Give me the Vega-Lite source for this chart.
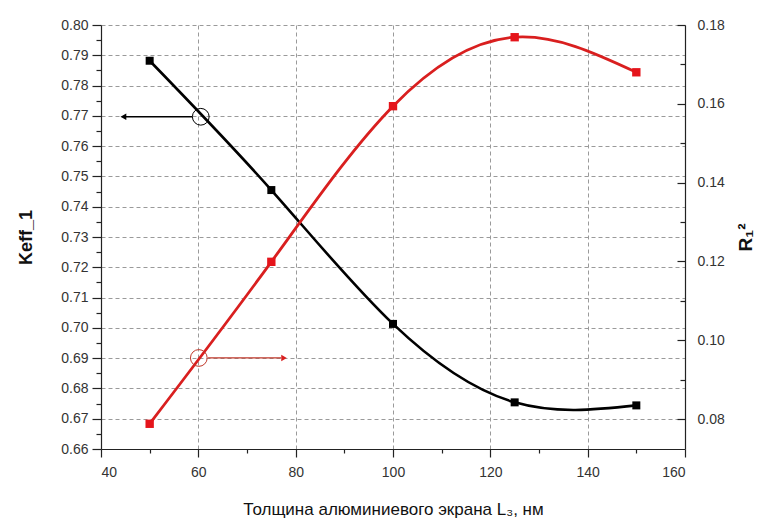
{
  "$schema": "https://vega.github.io/schema/vega-lite/v6.json",
  "width": 584,
  "height": 424,
  "autosize": {"type": "none"},
  "padding": {"left": 101, "top": 25, "right": 78, "bottom": 70},
  "background": "white",
  "config": {
    "view": {"stroke": null},
    "font": "Liberation Sans",
    "axis": {
      "labelFont": "Liberation Sans",
      "titleFont": "Liberation Sans",
      "labelFontSize": 14,
      "labelColor": "#333333",
      "titleColor": "#111111",
      "domainColor": "#222222",
      "tickColor": "#222222",
      "domainWidth": 1.2,
      "tickWidth": 1.2,
      "gridColor": "#9a9a9a",
      "gridDash": [4, 3],
      "gridWidth": 1,
      "labelOverlap": false
    }
  },
  "datasets": {
    "keff": [
      {"L": 50, "keff": 0.7882},
      {"L": 75, "keff": 0.7455},
      {"L": 100, "keff": 0.7013},
      {"L": 125, "keff": 0.6754},
      {"L": 150, "keff": 0.6744}
    ],
    "r2": [
      {"L": 50, "r2": 0.0788},
      {"L": 75, "r2": 0.1199},
      {"L": 100, "r2": 0.1594},
      {"L": 125, "r2": 0.1769},
      {"L": 150, "r2": 0.1680}
    ],
    "annotLeft": [{"x": 60.5, "y": 0.7697, "xs": 58.7, "xe": 45.0, "tip": 44.6}],
    "annotRight": [{"x": 60.1, "y": 0.0955, "xs": 62.0, "xe": 77.0, "tip": 77.6}]
  },
  "layer": [
    {
      "encoding": {
        "x": {
          "type": "quantitative",
          "scale": {"domain": [40, 160], "nice": false, "zero": false},
          "axis": {
            "values": [40, 50, 60, 70, 80, 90, 100, 110, 120, 130, 140, 150, 160],
            "labelExpr": "datum.value % 20 == 0 ? datum.label : ''",
            "title": "Толщина алюминиевого экрана L₃, нм",
            "titleFontSize": 17,
            "titleFontWeight": "normal",
            "titlePadding": 22,
            "labelPadding": 8,
            "tickSize": {"condition": {"test": "datum.value % 20 == 0", "value": 8}, "value": 4},
            "grid": true,
            "gridOpacity": {"condition": {"test": "datum.value % 20 == 0 && datum.value > 40 && datum.value < 160", "value": 1}, "value": 0}
          }
        },
        "y": {
          "type": "quantitative",
          "scale": {"domain": [0.66, 0.80], "nice": false, "zero": false},
          "axis": {
            "values": [0.66, 0.665, 0.67, 0.675, 0.68, 0.685, 0.69, 0.695, 0.70, 0.705, 0.71, 0.715, 0.72, 0.725, 0.73, 0.735, 0.74, 0.745, 0.75, 0.755, 0.76, 0.765, 0.77, 0.775, 0.78, 0.785, 0.79, 0.795, 0.80],
            "format": ".2f",
            "labelExpr": "round(datum.value * 1000) % 10 == 0 ? datum.label : ''",
            "title": "Keff_1",
            "titleFontSize": 18,
            "titleFontWeight": "bold",
            "titleAngle": 270,
            "titlePadding": 25,
            "labelPadding": 4,
            "tickSize": {"condition": {"test": "round(datum.value * 1000) % 10 == 0", "value": 9}, "value": 5},
            "grid": true,
            "gridOpacity": {"condition": {"test": "round(datum.value * 1000) % 10 == 0 && datum.value > 0.661", "value": 1}, "value": 0}
          }
        }
      },
      "layer": [
        {
          "data": {"name": "keff"},
          "mark": {"type": "line", "color": "#000000", "strokeWidth": 2.6, "interpolate": "natural"},
          "encoding": {
            "x": {"field": "L"},
            "y": {"field": "keff"}
          }
        },
        {
          "data": {"name": "keff"},
          "mark": {"type": "point", "shape": "square", "filled": true, "color": "#000000", "size": 64, "opacity": 1},
          "encoding": {
            "x": {"field": "L"},
            "y": {"field": "keff"}
          }
        },
        {
          "data": {"name": "annotLeft"},
          "mark": {"type": "point", "shape": "circle", "filled": false, "color": "#000000", "strokeWidth": 1, "size": 280, "opacity": 1},
          "encoding": {
            "x": {"field": "x"},
            "y": {"field": "y"}
          }
        },
        {
          "data": {"name": "annotLeft"},
          "mark": {"type": "rule", "color": "#000000", "strokeWidth": 1.5},
          "encoding": {
            "x": {"field": "xs"},
            "x2": {"field": "xe"},
            "y": {"field": "y"}
          }
        },
        {
          "data": {"name": "annotLeft"},
          "mark": {"type": "point", "shape": "triangle-left", "filled": true, "color": "#000000", "size": 45, "opacity": 1},
          "encoding": {
            "x": {"field": "tip"},
            "y": {"field": "y"}
          }
        }
      ]
    },
    {
      "encoding": {
        "x": {"type": "quantitative"},
        "y": {
          "type": "quantitative",
          "scale": {"domain": [0.0724, 0.18], "nice": false, "zero": false},
          "axis": {
            "orient": "right",
            "values": [0.08, 0.09, 0.10, 0.11, 0.12, 0.13, 0.14, 0.15, 0.16, 0.17, 0.18],
            "format": ".2f",
            "labelExpr": "round(datum.value * 100) % 2 == 0 ? datum.label : ''",
            "title": "R₁²",
            "titleFontSize": 19,
            "titleFontWeight": "bold",
            "titleAngle": 270,
            "titlePadding": 31,
            "labelPadding": 20,
            "tickSize": {"condition": {"test": "round(datum.value * 100) % 2 == 0", "value": -8}, "value": -5},
            "grid": false
          }
        }
      },
      "layer": [
        {
          "data": {"name": "r2"},
          "mark": {"type": "line", "color": "#d91f1f", "strokeWidth": 2.8, "interpolate": "natural"},
          "encoding": {
            "x": {"field": "L"},
            "y": {"field": "r2"}
          }
        },
        {
          "data": {"name": "r2"},
          "mark": {"type": "point", "shape": "square", "filled": true, "color": "#e5141b", "size": 70, "opacity": 1},
          "encoding": {
            "x": {"field": "L"},
            "y": {"field": "r2"}
          }
        },
        {
          "data": {"name": "annotRight"},
          "mark": {"type": "point", "shape": "circle", "filled": false, "color": "#c0392b", "strokeWidth": 1, "size": 280, "opacity": 1},
          "encoding": {
            "x": {"field": "x"},
            "y": {"field": "y"}
          }
        },
        {
          "data": {"name": "annotRight"},
          "mark": {"type": "rule", "color": "#c0392b", "strokeWidth": 1.2},
          "encoding": {
            "x": {"field": "xs"},
            "x2": {"field": "xe"},
            "y": {"field": "y"}
          }
        },
        {
          "data": {"name": "annotRight"},
          "mark": {"type": "point", "shape": "triangle-right", "filled": true, "color": "#d91f1f", "size": 40, "opacity": 1},
          "encoding": {
            "x": {"field": "tip"},
            "y": {"field": "y"}
          }
        }
      ]
    }
  ],
  "resolve": {"scale": {"y": "independent"}, "axis": {"y": "independent"}}
}
